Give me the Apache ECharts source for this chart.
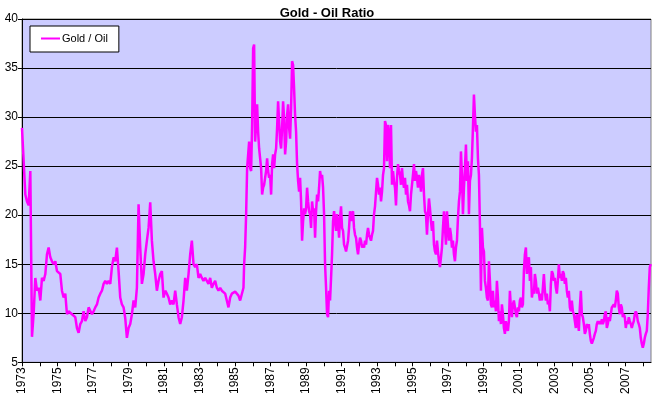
<!DOCTYPE html>
<html>
<head>
<meta charset="utf-8">
<script src="https://cdn.jsdelivr.net/npm/echarts@6/dist/echarts.min.js"></script>
<style>
  html, body { margin: 0; padding: 0; background: #fff; }
  #chart { width: 654px; height: 397px; }
</style>
</head>
<body>
<div id="chart"></div>
<script>
var chartTitle = 'Gold - Oil Ratio';
var seriesName = 'Gold / Oil';

// 1973 - mid 1985 (regular spacing in time)
var earlyStart = 1973.0;
var earlyStep = 0.0938;
var earlyRatio = [
  28.9, 25.5, 22.1, 21.4, 21.0, 24.5, 7.6, 10.0, 13.6, 12.3,
  12.6, 11.3, 13.6, 13.3, 14.0, 16.0, 16.7, 15.7, 15.3, 15.0,
  15.3, 14.3, 14.3, 14.0, 12.3, 11.6, 12.0, 9.9, 10.2, 10.2,
  9.9, 9.7, 9.6, 8.5, 8.0, 8.9, 9.2, 10.2, 9.2, 9.6,
  10.6, 10.4, 9.9, 10.2, 10.6, 10.9, 11.6, 12.0, 12.3, 13.0,
  13.3, 13.0, 13.3, 13.0, 14.7, 15.7, 15.3, 16.7, 14.3, 11.6,
  10.9, 10.6, 9.5, 7.5, 8.5, 8.9, 9.9, 11.3, 10.6, 12.6,
  21.1, 16.7, 13.0, 14.0, 16.0, 17.4, 18.7, 21.3, 17.4, 15.3,
  14.0, 12.3, 13.3, 14.0, 14.3, 11.6, 12.3, 12.0, 11.6, 10.9,
  11.3, 10.9, 12.3,
  10.9, 9.6, 8.9, 9.6, 11.3, 13.6, 12.3, 14.0, 16.0, 17.4,
  15.0, 14.7, 15.0, 13.6, 14.0, 13.6, 13.3, 13.6, 13.3, 13.0,
  13.6, 12.6, 13.0, 13.3, 12.6, 12.3, 12.6, 12.3, 12.3, 12.0,
  11.3, 10.6, 11.6, 12.0, 12.0, 12.2, 12.0, 11.8, 11.3, 11.1,
  12.6
];

// mid 1985 - 2008, finer spacing
var lateStart = 1985.512;
var lateStep = 0.05628;
var lateRatio = [
  15.0, 16.7, 20.1, 24.8, 24.8, 27.5, 24.8, 24.5, 29.2, 37.0,
  37.4, 27.5, 29.2, 31.3, 28.5, 26.8, 25.8, 24.8, 22.1, 22.8,
  23.1, 23.8, 24.5, 25.8, 24.5, 23.8, 24.1, 22.1, 25.2, 26.2,
  24.8, 26.2, 26.8, 28.9, 31.6, 29.6, 27.5, 26.8, 28.9, 31.6,
  29.9, 26.2, 27.5, 30.2, 31.3, 28.9, 27.8, 30.9, 35.7, 35.3,
  32.9, 30.2, 28.5, 25.2, 23.5, 22.4, 23.8, 21.4, 17.4, 19.4,
  20.7, 20.1, 20.7, 22.8, 21.4, 20.4, 20.1, 18.7, 21.4, 20.4,
  20.7, 17.7, 20.4, 22.1, 21.4, 22.8, 24.5, 23.8, 24.1, 22.8,
  20.1, 15.0, 12.6, 9.9, 9.6, 12.3, 11.3, 13.6, 16.0, 19.4,
  20.4,
  20.4, 18.4, 20.1, 19.4, 17.7, 19.7, 20.9, 18.7, 18.4, 17.0,
  16.7, 16.3, 16.3, 17.4, 18.7, 20.4, 19.4, 20.1, 20.4, 18.7,
  18.0, 17.7, 16.7, 16.0, 17.0, 17.7, 17.4, 16.7, 17.0, 16.7,
  17.4, 17.0, 18.0, 18.7, 18.0, 17.7, 17.4, 18.0, 18.4, 20.1,
  20.9, 20.7, 23.8, 23.1, 22.1, 22.8, 21.4, 22.4, 24.1, 24.8,
  29.6, 29.2, 25.5, 29.2, 28.2, 24.8, 29.2, 23.1, 24.5, 23.5,
  22.8, 21.0, 23.8, 25.2, 24.5, 24.1, 23.1, 24.8, 23.5, 22.8,
  23.8, 22.1, 23.1, 21.4, 21.0, 20.4, 22.1, 23.1, 24.1, 25.2,
  23.5, 24.5, 23.8, 22.8, 24.1, 23.5, 22.4, 24.1, 24.8, 22.1,
  20.4, 20.1, 18.0, 20.1, 21.7, 20.7, 19.4, 18.4, 19.4, 17.0,
  16.3, 16.0, 17.4, 16.3, 15.3, 14.7, 15.7, 16.7, 18.7, 20.4,
  18.7, 17.0, 20.4, 19.0, 17.4, 18.7, 18.0, 16.7, 17.4, 16.0,
  15.3, 16.7, 17.4, 19.7, 21.4, 22.4, 26.5, 24.1, 20.1, 22.8,
  24.8, 27.2, 23.5, 25.5, 20.1, 23.5, 24.1, 25.8, 28.9, 32.3,
  30.2, 28.5, 29.2, 25.8, 24.1, 19.0, 12.3, 18.7, 16.7, 16.3,
  13.3, 12.6, 11.6, 11.3, 15.3, 13.3, 10.9, 10.6,
  12.3, 10.6, 11.3, 10.2, 13.3, 11.6, 9.2, 10.2, 8.9, 10.9,
  9.9, 8.5, 7.9, 9.2, 8.5, 8.2, 9.2, 12.3, 10.6, 9.6,
  10.9, 11.3, 10.6, 9.9, 9.6, 10.6, 10.2, 11.3, 11.6, 10.6,
  10.9, 14.3, 16.0, 16.7, 14.0, 15.3, 15.7, 13.3, 14.7, 11.6,
  12.3, 12.0, 14.0, 13.3, 12.0, 12.6, 12.0, 11.3, 12.0, 11.3,
  12.6, 14.0, 12.3, 11.3, 12.0, 10.9, 11.3, 10.2, 13.0, 14.3,
  14.0, 13.3, 13.6, 12.6, 12.0, 13.3, 15.0, 13.6, 14.0, 13.3,
  14.3, 14.0, 13.0, 13.6, 12.3, 11.6, 12.3, 10.6, 10.2, 11.3,
  10.2, 9.9, 9.2, 8.5, 9.9, 9.2, 8.2, 10.6, 12.3, 9.9,
  9.6, 8.9, 7.9, 8.2, 8.9, 8.5, 8.9, 7.9, 7.2, 6.9,
  6.7, 7.5, 7.9, 8.2, 8.9, 9.2, 8.9, 9.2, 8.9, 9.4,
  8.9, 9.2, 9.9, 10.2, 8.5, 8.9, 9.6, 9.2, 9.9, 10.6,
  10.6, 10.9, 10.6, 11.3, 12.3, 12.0, 10.6, 9.9, 10.9, 10.6,
  9.6, 9.9, 9.6, 8.5, 9.2, 8.9, 9.6, 9.2, 8.9, 8.5,
  8.9, 9.2, 9.9, 10.2, 9.9, 9.2, 8.9, 8.5, 7.5, 6.9,
  6.5, 6.9, 7.5, 7.9, 8.2, 9.9, 12.6, 14.7, 15.0
];

var xMin = 1973;
var xMax = 2008.43;
var yMin = 5;
var yMax = 40;
var yStep = 5;

var points = [];
earlyRatio.forEach(function (v, i) {
  points.push([earlyStart + i * earlyStep, v]);
});
lateRatio.forEach(function (v, i) {
  points.push([lateStart + i * lateStep, v]);
});

var font = 'Liberation Sans, Arial, sans-serif';
var myChart = echarts.init(document.getElementById('chart'));

var option = {
  backgroundColor: '#ffffff',
  animation: false,
  title: {
    text: chartTitle,
    left: 'center',
    top: 2,
    textStyle: { fontFamily: font, fontSize: 13, fontWeight: 'bold', color: '#000' }
  },
  legend: {
    left: 30,
    top: 26,
    padding: [7, 11, 8, 11],
    backgroundColor: '#ffffff',
    borderColor: '#000',
    borderWidth: 1,
    borderRadius: 0,
    icon: 'rect',
    itemWidth: 19,
    itemHeight: 2,
    itemGap: 4,
    textStyle: { fontFamily: font, fontSize: 11, color: '#000', padding: [0, 0, 0, -3] },
    data: [seriesName]
  },
  grid: {
    left: 22,
    top: 19,
    right: 3,
    bottom: 34,
    show: true,
    backgroundColor: '#CCCCFF',
    borderColor: '#808080',
    borderWidth: 1
  },
  xAxis: {
    type: 'value',
    min: xMin,
    max: xMax,
    interval: 1,
    axisLine: { lineStyle: { color: '#000', width: 1 } },
    axisTick: { show: true, inside: false, length: 4, lineStyle: { color: '#000' } },
    splitLine: { show: false },
    axisLabel: {
      rotate: 90,
      margin: 5,
      showMaxLabel: false,
      fontFamily: font,
      fontSize: 12,
      color: '#000',
      formatter: function (v) {
        return (Math.abs(v - Math.round(v)) < 1e-6 && (Math.round(v) - xMin) % 2 === 0) ? String(Math.round(v)) : '';
      }
    }
  },
  yAxis: {
    type: 'value',
    min: yMin,
    max: yMax,
    interval: yStep,
    axisLine: { show: true, lineStyle: { color: '#000', width: 1 } },
    axisTick: { show: true, inside: false, length: 4, lineStyle: { color: '#000' } },
    splitLine: { show: true, lineStyle: { color: '#000', width: 1 } },
    axisLabel: { margin: 4, fontFamily: font, fontSize: 12, color: '#000' }
  },
  series: [{
    name: seriesName,
    type: 'line',
    data: points,
    showSymbol: false,
    symbol: 'none',
    color: '#FF00FF',
    lineStyle: { color: '#FF00FF', width: 2.5 }
  }]
};

option && myChart.setOption(option);
</script>
</body>
</html>
